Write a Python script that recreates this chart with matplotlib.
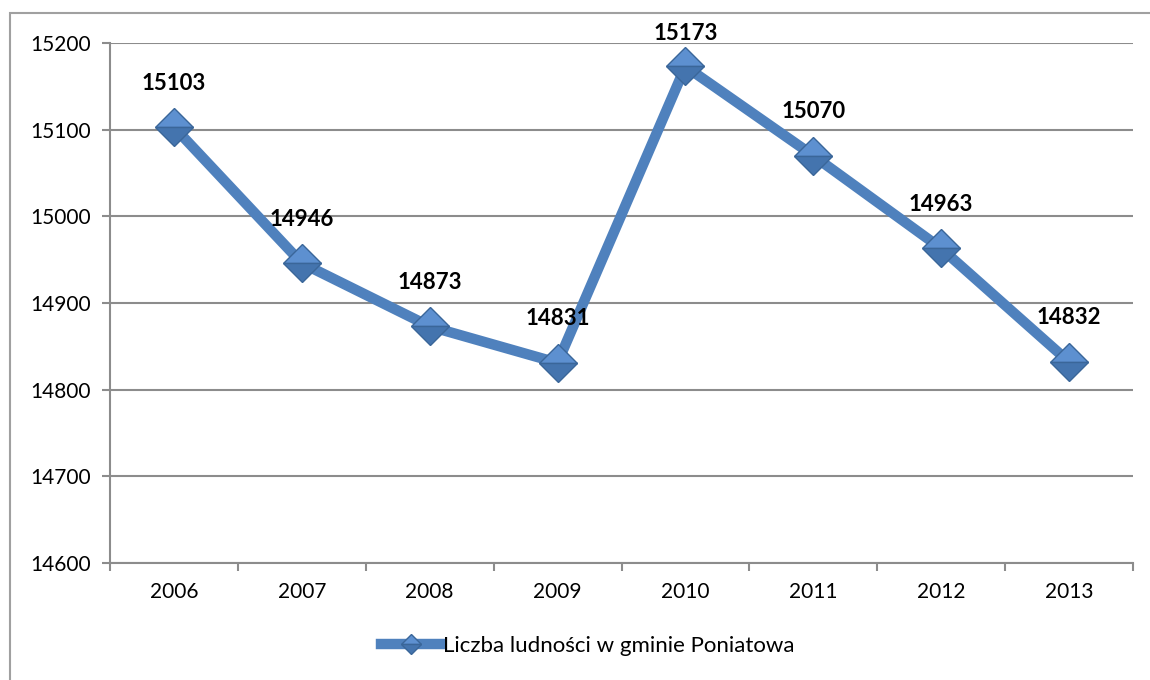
import matplotlib.pyplot as plt
from matplotlib.patches import Rectangle

# data
years = ["2006", "2007", "2008", "2009", "2010", "2011", "2012", "2013"]
population = [15103, 14946, 14873, 14831, 15173, 15070, 14963, 14832]
series_name = "Liczba ludności w gminie Poniatowa"

blue = "#4F81BD"
grid_gray = "#8C8C8C"

plt.rcParams['font.family'] = ['Lato', 'DejaVu Sans']

fig = plt.figure(figsize=(11.5, 6.8), dpi=100)
fig.patch.set_facecolor("white")

# outer chart border (cut off on the right and bottom like the original)
fig.patches.append(Rectangle((10 / 1150, -0.1), 1.2, 0.1 + 1 - 13 / 680,
                             transform=fig.transFigure, fill=False,
                             edgecolor="#A0A0A0", linewidth=1.5, clip_on=False))

ax = fig.add_axes([110 / 1150, 1 - 563 / 680, 1023 / 1150, 520 / 680])

x = list(range(len(years)))
ax.set_xlim(-0.5, len(years) - 0.5)
ax.set_ylim(14600, 15200)

ax.plot(x, population, color=blue, linewidth=7.5, marker="D", markersize=19,
        fillstyle="top", markerfacecolor="#5D90D0", markerfacecoloralt="#4474AE",
        markeredgecolor="#3A6699", markeredgewidth=1.0,
        solid_joinstyle="miter", label=series_name, zorder=3)

# data labels ~44 px above the point, but kept inside the chart area (like Excel)
fig.canvas.draw()
for xi, val in zip(x, population):
    px, py = ax.transData.transform((xi, val))
    top_limit = 680 - 33
    ly = min(py + 44, top_limit)
    ax.annotate(str(val), (px, ly), xycoords="figure pixels",
                ha="center", va="center", fontsize=16, fontweight="bold",
                color="black", zorder=4)

ax.set_yticks(range(14600, 15201, 100))
ax.set_xticks(x)
ax.set_xticklabels(years)
ax.set_xticks([i + 0.5 for i in range(-1, len(years) - 1)] + [len(years) - 0.5], minor=True)

ax.tick_params(axis="x", which="major", length=0, pad=14, labelsize=15)
ax.tick_params(axis="x", which="minor", length=6, width=1.5, color=grid_gray, direction="out")
ax.tick_params(axis="y", length=6, width=1.5, color=grid_gray, pad=8, labelsize=15)

ax.grid(axis="y", color=grid_gray, linewidth=1.5)
ax.set_axisbelow(True)
for side in ["top", "right"]:
    ax.spines[side].set_visible(False)
for side in ["left", "bottom"]:
    ax.spines[side].set_color(grid_gray)
    ax.spines[side].set_linewidth(1.5)

leg = fig.legend(loc="center", bbox_to_anchor=(588 / 1150, 1 - 646 / 680),
                 frameon=False, fontsize=16, handlelength=2.7, handletextpad=0.1,
                 markerscale=0.55)

fig.savefig("out.png", dpi=100)
